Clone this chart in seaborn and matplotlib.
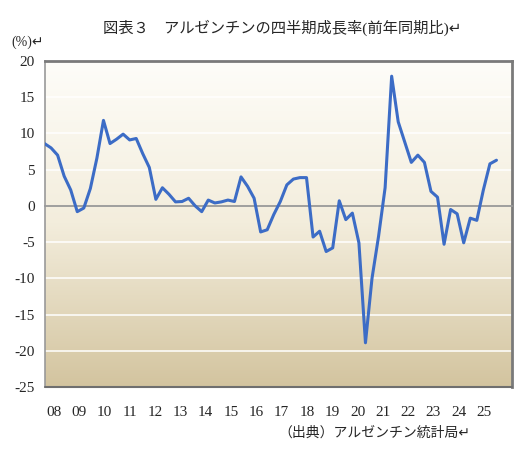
import seaborn as sns
import matplotlib.pyplot as plt
import numpy as np
import pandas as pd
from matplotlib.colors import LinearSegmentedColormap

# quarterly y/y growth, 2008Q1 .. 2025Q2
growth = [8.6, 8.0, 7.0, 4.1,
          2.2, -0.8, -0.3, 2.4,
          6.6, 11.8, 8.6, 9.2,
          9.9, 9.1, 9.3, 7.2,
          5.3, 0.9, 2.5, 1.6,
          0.55, 0.6, 1.05, 0.0,
          -0.8, 0.8, 0.4, 0.55,
          0.8, 0.6, 4.0, 2.7,
          1.05, -3.6, -3.3, -1.2,
          0.6, 2.9, 3.7, 3.9,
          3.9, -4.3, -3.5, -6.3,
          -5.8, 0.7, -1.9, -1.0,
          -5.1, -18.9, -10.0, -4.2,
          2.5, 17.9, 11.6, 8.8,
          6.0, 7.0, 6.0, 2.0,
          1.2, -5.3, -0.5, -1.1,
          -5.1, -1.7, -2.0, 2.2,
          5.8, 6.3]
years = ['08', '09', '10', '11', '12', '13', '14', '15', '16',
         '17', '18', '19', '20', '21', '22', '23', '24', '25']
yticks = [20, 15, 10, 5, 0, -5, -10, -15, -20, -25]

df = pd.DataFrame({'q': np.arange(len(growth)), 'growth': growth})

sns.set_style('white')
fonts = ['Liberation Serif', 'Noto Sans CJK JP', 'DejaVu Sans']
plt.rcParams['font.family'] = fonts

fig = plt.figure(figsize=(5.28, 4.55), dpi=100)
ax = fig.add_axes([0.0843, 0.1495, 0.8845, 0.7165])

xmax = 71.3
# gradient fill of the plot area
cmap = LinearSegmentedColormap.from_list('bg', ['#fefdf9', '#f3eddc', '#d3c49f'])
grad = np.linspace(0, 1, 256).reshape(-1, 1)
ax.imshow(grad, cmap=cmap, aspect='auto', extent=[0, xmax, -25, 20],
          origin='upper', zorder=0)

for v in yticks:
    if v not in (0, 20, -25):
        ax.axhline(v, color='white', lw=1.1, zorder=1)

sns.lineplot(data=df, x='q', y='growth', ax=ax, color='#3c6cc6', lw=2.2, zorder=3)

ax.set_xlim(0, xmax)
ax.set_ylim(-25, 20)
ax.set_xlabel('')
ax.set_ylabel('')

ax.spines['bottom'].set_position(('data', 0))
ax.spines['bottom'].set_color('#999999')
ax.spines['bottom'].set_linewidth(1.3)
ax.spines['left'].set_color('#999999')
ax.spines['left'].set_linewidth(1.2)
for s in ['top', 'right']:
    ax.spines[s].set_color('#7a7a7a')
    ax.spines[s].set_linewidth(2)
ax.axhline(-25, color='#6f6f6f', lw=1.5, clip_on=False, zorder=4)

ax.set_xticks(np.arange(0, len(growth), 4))
ax.set_xticklabels([])
ax.tick_params(axis='x', direction='out', length=4, color='#999999', width=1)

ax.set_yticks(yticks)
ax.set_yticklabels([str(v) for v in yticks], fontsize=11)
ax.tick_params(axis='y', direction='out', length=4, color='#999999', width=1, pad=3)

sec = ax.secondary_xaxis(location=0)
sec.set_xticks(np.linspace(1.45, 67.1, len(years)))
sec.set_xticklabels(years, fontsize=11)
sec.tick_params(length=0, pad=14)
sec.spines['bottom'].set_visible(False)

fig.text(0.534, 0.938, '図表３　アルゼンチンの四半期成長率(前年同期比)↵',
         ha='center', va='center', fontsize=11, family=fonts)
fig.text(0.022, 0.908, '(%)↵', ha='left', va='center', fontsize=10, family=fonts)
fig.text(0.89, 0.048, '（出典）アルゼンチン統計局↵', ha='right', va='center',
         fontsize=10, family=fonts)

plt.savefig('out.png', dpi=100)
